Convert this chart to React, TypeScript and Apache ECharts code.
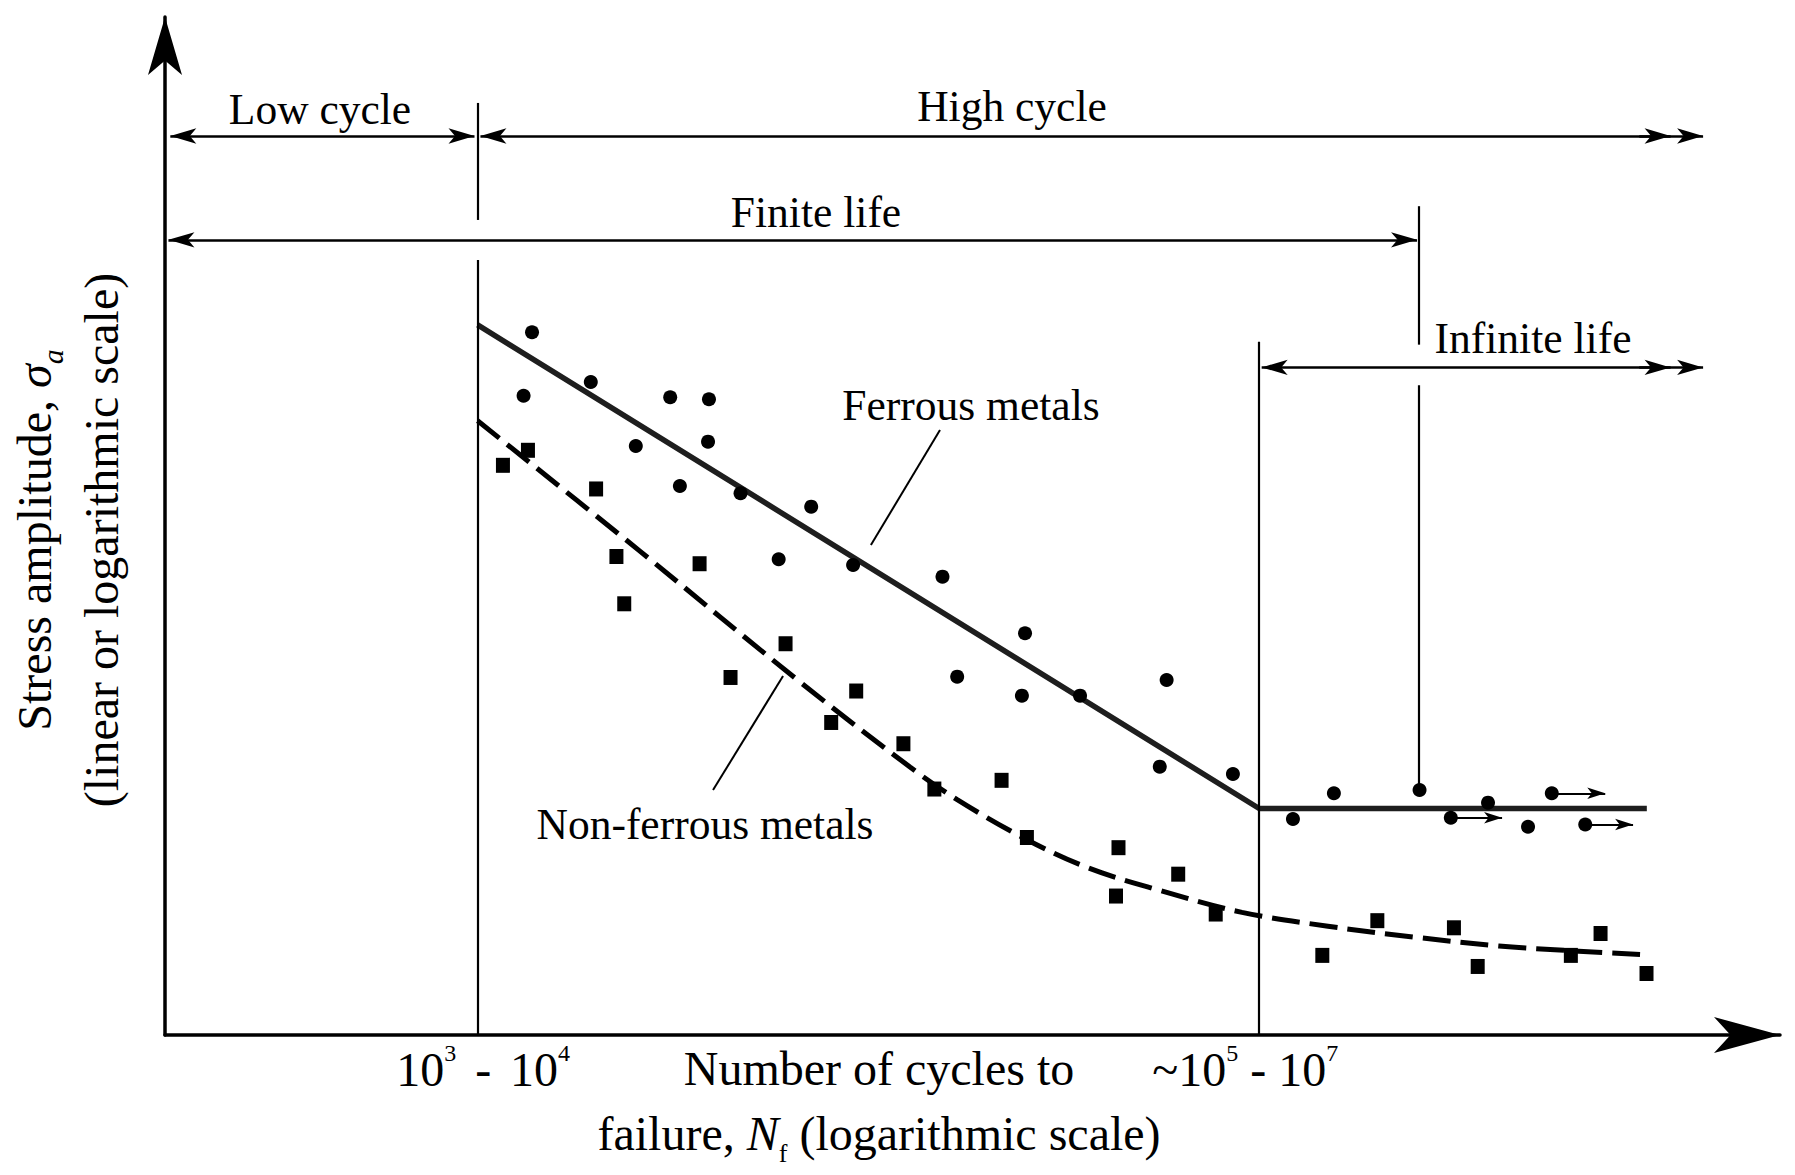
import React, { useEffect, useRef } from "react";
import * as echarts from "echarts";

// Schematic S-N diagram. x = log10(cycles to failure), y = relative stress amplitude
const X_MIN = 2.5;
const X_MAX = 7.666;
const Y_MIN = 0;
const Y_MAX = 102.93;

// Ferrous metals: failure points
const ferrousX = [3.674, 3.862, 3.647, 4.116, 4.24, 4.006, 4.237, 4.147, 4.341, 4.567, 4.463, 4.701, 4.987, 5.251, 5.034, 5.241, 5.427, 5.704, 5.682, 5.916, 6.108, 6.239, 6.513, 6.732, 6.86];
const ferrousY = [71.05, 66.03, 64.64, 64.48, 64.28, 59.56, 59.99, 55.51, 54.77, 53.42, 48.1, 47.52, 46.34, 40.62, 36.23, 34.31, 34.31, 35.89, 27.13, 26.39, 21.84, 24.44, 24.77, 23.49, 21.06];
// Ferrous metals: run-outs (no failure), drawn with an arrow
const runoutX = [6.613, 6.936, 7.043];
const runoutY = [21.97, 24.44, 21.28];
const runoutTipX = [6.777, 7.107, 7.196];

// Non-ferrous metals: failure points
const nonFerrousX = [3.581, 3.661, 3.879, 3.944, 3.969, 4.21, 4.309, 4.485, 4.631, 4.711, 4.862, 4.961, 5.176, 5.257, 5.55, 5.542, 5.741, 5.861, 6.202, 6.378, 6.623, 6.699, 6.997, 7.092, 7.239];
const nonFerrousY = [57.6, 59.12, 55.21, 48.38, 43.6, 47.65, 36.15, 39.56, 31.6, 34.78, 29.45, 24.87, 25.75, 19.97, 18.94, 14.05, 16.26, 12.23, 8.05, 11.56, 10.84, 6.93, 8.05, 10.26, 6.22];

// Fitted curves
const ferrousFitX = [3.5, 6.0, 7.24];
const ferrousFitY = [71.8, 22.9, 22.9];
const nonFerrousFitX = [3.5, 4.02, 4.531, 4.883, 5.034, 5.254, 5.453, 5.673, 5.945, 6.22, 6.496, 6.767, 7.007, 7.244];
const nonFerrousFitY = [62.1, 48.9, 35.7, 27.1, 23.8, 19.8, 16.9, 14.7, 12.4, 11.0, 9.9, 9.0, 8.5, 8.1];

// Regime boundaries (x) and tick labels
const lowHighBoundary = 3.5;
const enduranceKnee = 6.0;
const finiteLifeEnd = 6.51;
const tickValues = [lowHighBoundary, enduranceKnee];
const tickLabels = [
  "{gl|}{n|10}{s|3}{sp|}{n| - }{sp|}{n|10}{s|4}",
  "{n|~10}{s|5}{n| - 10}{s|7}{gr|}",
];

// Regime dimension arrows (tips)
const regionNames = ["Low cycle", "High cycle", "Finite life", "Infinite life"];
const regionStart = [2.517, 3.509, 2.511, 6.008];
const regionEnd = [3.49, 7.42, 6.505, 7.42];
const regionLevel = [90.9, 90.9, 80.4, 67.5];
const doubleHeadTip = 7.316;

// Vertical boundary segments [x, yFrom, yTo]
const boundaryX = [lowHighBoundary, lowHighBoundary, enduranceKnee, finiteLifeEnd, finiteLifeEnd];
const boundaryFrom = [94.24, 78.36, 70.1, 83.8, 65.7];
const boundaryTo = [82.41, 0, 0, 69.8, 24.77];

// Leader lines from curve labels
const leaderFromX = [4.979, 4.477];
const leaderFromY = [61.17, 36.3];
const leaderToX = [4.758, 4.253];
const leaderToY = [49.54, 24.77];

const FONT = "'Liberation Serif', 'Times New Roman', serif";
const W = 1795;
const H = 1175;
const GRID = { left: 165, right: 15, top: 17, bottom: 140 };

function label(text: string, x: number, baseline: number, size = 43.5) {
  return {
    type: "text",
    x,
    y: baseline - 0.3375 * size,
    silent: true,
    style: {
      text,
      fontSize: size,
      fontFamily: FONT,
      fill: "#000",
      align: "center",
      verticalAlign: "middle",
      textAlign: "center",
      textVerticalAlign: "middle",
    },
  };
}

export default function App() {
  const ref = useRef<HTMLDivElement>(null);

  useEffect(() => {
    if (!ref.current) return;
    const chart = echarts.init(ref.current, undefined, { renderer: "svg" });

    const dimSize = [11.5, 26];
    const lines: any[] = [];
    regionStart.forEach((s, i) => {
      lines.push([
        { coord: [s, regionLevel[i]], symbol: "arrow", symbolSize: dimSize, lineStyle: { width: 2.6 } },
        { coord: [regionEnd[i], regionLevel[i]], symbol: "arrow", symbolSize: dimSize },
      ]);
    });
    [regionLevel[1], regionLevel[3]].forEach((lv) => {
      lines.push([
        { coord: [doubleHeadTip - 0.1, lv], symbol: "none", lineStyle: { width: 2.6 } },
        { coord: [doubleHeadTip, lv], symbol: "arrow", symbolSize: dimSize },
      ]);
    });
    boundaryX.forEach((x, i) => {
      lines.push([
        { coord: [x, boundaryFrom[i]], symbol: "none", lineStyle: { width: 2.2 } },
        { coord: [x, boundaryTo[i]], symbol: "none" },
      ]);
    });
    leaderFromX.forEach((x, i) => {
      lines.push([
        { coord: [x, leaderFromY[i]], symbol: "none", lineStyle: { width: 2 } },
        { coord: [leaderToX[i], leaderToY[i]], symbol: "none" },
      ]);
    });
    runoutX.forEach((x, i) => {
      lines.push([
        { coord: [x, runoutY[i]], symbol: "none", lineStyle: { width: 2.2 } },
        { coord: [runoutTipX[i], runoutY[i]], symbol: "arrow", symbolSize: [8.5, 18] },
      ]);
    });

    const rich = {
      t: { fontSize: 48, fontFamily: FONT, lineHeight: 65, fill: "#000", color: "#000" },
      i: { fontSize: 48, fontFamily: FONT, fontStyle: "italic", lineHeight: 65, fill: "#000", color: "#000" },
      sub: { fontSize: 26, fontFamily: FONT, lineHeight: 40, verticalAlign: "bottom", fill: "#000", color: "#000" },
    };
    const yRich = {
      t: { fontSize: 48, fontFamily: FONT, lineHeight: 67, fill: "#000", color: "#000" },
      g: { fontSize: 48, fontFamily: FONT, fontStyle: "italic", lineHeight: 67, fill: "#000", color: "#000" },
      sub: { fontSize: 30, fontFamily: FONT, fontStyle: "italic", lineHeight: 39, verticalAlign: "bottom", fill: "#000", color: "#000" },
    };

    chart.setOption({
      animation: false,
      backgroundColor: "#fff",
      grid: { ...GRID, containLabel: false, outerBoundsMode: "none" },
      xAxis: {
        type: "value",
        min: X_MIN,
        max: X_MAX,
        axisLine: {
          show: true,
          onZero: false,
          symbol: ["none", "arrow"],
          symbolSize: [27, 66],
          lineStyle: { color: "#000", width: 3.5 },
        },
        axisTick: { show: false },
        splitLine: { show: false },
        axisLabel: {
          show: true,
          customValues: tickValues,
          margin: 6,
          formatter: (v: number) => {
            const k = tickValues.findIndex((t) => Math.abs(t - v) < 1e-6);
            return k >= 0 ? tickLabels[k] : "";
          },
          rich: {
            n: { fontSize: 48, fontFamily: FONT, lineHeight: 56, color: "#000" },
            s: { fontSize: 24, fontFamily: FONT, lineHeight: 34, verticalAlign: "top", color: "#000" },
            sp: { width: 7 },
            gl: { width: 11 },
            gr: { width: 28 },
          },
        },
      },
      yAxis: {
        type: "value",
        min: Y_MIN,
        max: Y_MAX,
        axisLine: {
          show: true,
          onZero: false,
          symbol: ["none", "arrow"],
          symbolSize: [25.5, 58],
          lineStyle: { color: "#000", width: 3.5 },
        },
        axisTick: { show: false },
        splitLine: { show: false },
        axisLabel: { show: false },
      },
      series: [
        {
          type: "scatter",
          name: "annotations",
          data: [],
          z: 1,
          silent: true,
          markLine: {
            silent: true,
            symbol: ["none", "none"],
            label: { show: false },
            emphasis: { disabled: true },
            lineStyle: { color: "#000", type: "solid", width: 2.2, opacity: 1 },
            data: lines,
          },
        },
        {
          type: "line",
          name: "Ferrous metals",
          data: ferrousFitX.map((x, i) => [x, ferrousFitY[i]]),
          symbol: "none",
          lineStyle: { color: "#1e1e1e", width: 5.5 },
          z: 2,
          silent: true,
        },
        {
          type: "line",
          name: "Non-ferrous metals",
          data: nonFerrousFitX.map((x, i) => [x, nonFerrousFitY[i]]),
          symbol: "none",
          smooth: 0.35,
          lineStyle: { color: "#000", width: 5, type: [28, 10] },
          z: 2,
          silent: true,
        },
        {
          type: "scatter",
          name: "Ferrous data",
          data: ferrousX.map((x, i) => [x, ferrousY[i]]),
          symbol: "circle",
          symbolSize: 14,
          itemStyle: { color: "#000", opacity: 1 },
          z: 5,
          silent: true,
        },
        {
          type: "scatter",
          name: "Ferrous run-outs",
          data: runoutX.map((x, i) => [x, runoutY[i]]),
          symbol: "circle",
          symbolSize: 14,
          itemStyle: { color: "#000", opacity: 1 },
          z: 5,
          silent: true,
        },
        {
          type: "scatter",
          name: "Non-ferrous data",
          data: nonFerrousX.map((x, i) => [x, nonFerrousY[i]]),
          symbol: "rect",
          symbolSize: [14, 15],
          itemStyle: { color: "#000", opacity: 1 },
          z: 5,
          silent: true,
        },
      ],
      graphic: [
        label(regionNames[0], 320, 124),
        label(regionNames[1], 1012, 121),
        label(regionNames[2], 816, 227),
        label(regionNames[3], 1533, 353),
        label("Ferrous metals", 971, 420),
        label("Non-ferrous metals", 705, 839),
        {
          type: "text",
          x: 879,
          y: 1101,
          silent: true,
          style: {
            text: "{t|Number of cycles to}\n{t|failure, }{i|N}{sub|f}{t| (logarithmic scale)}",
            rich,
            fill: "#000",
            align: "center",
            verticalAlign: "middle",
            textAlign: "center",
            textVerticalAlign: "middle",
          },
        },
        {
          type: "text",
          x: 67.5,
          y: 540,
          rotation: Math.PI / 2,
          silent: true,
          style: {
            text: "{t|Stress amplitude, }{g|σ}{sub|a}\n{t|(linear or logarithmic scale)}",
            rich: yRich,
            fill: "#000",
            align: "center",
            verticalAlign: "middle",
            textAlign: "center",
            textVerticalAlign: "middle",
          },
        },
      ],
    });

    return () => chart.dispose();
  }, []);

  return (
    <div
      ref={ref}
      style={{ position: "absolute", left: 0, top: 0, width: W, height: H, background: "#fff" }}
    />
  );
}
